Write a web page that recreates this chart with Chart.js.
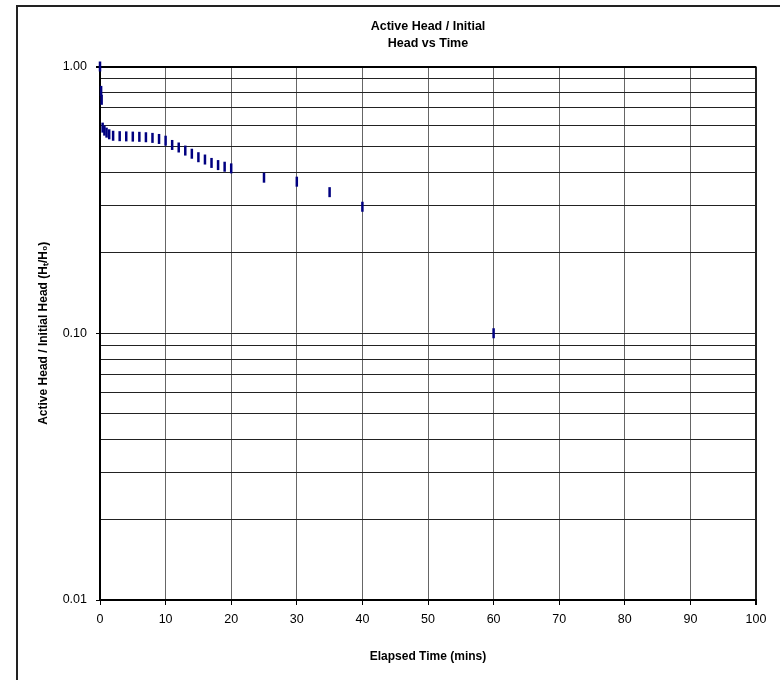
<!DOCTYPE html>
<html>
<head>
<meta charset="utf-8">
<title>Active Head / Initial Head vs Time</title>
<script src="https://cdn.jsdelivr.net/npm/chart.js@4.4.1/dist/chart.umd.min.js"></script>
<style>
  html, body { margin: 0; padding: 0; background: #fff; overflow: hidden; }
  #wrap { position: relative; width: 780px; height: 680px; }
  #frame {
    position: absolute; left: 16px; top: 5px; width: 800px; height: 700px;
    border-left: 2px solid #222; border-top: 2px solid #222; pointer-events: none;
  }
</style>
</head>
<body>
<div id="wrap">
  <canvas id="headChart" width="780" height="680"></canvas>
  <div id="frame"></div>
</div>
<script>
// elapsed time (mins) and normalised head H/H0
const elapsedTime = [0, 0.17, 0.25, 0.4, 0.67, 1, 1.4, 2, 3, 4, 5, 6, 7, 8, 9, 10,
    11, 12, 13, 14, 15, 16, 17, 18, 19, 20, 25, 30, 35, 40, 60];
const headRatio = [1.00, 0.81, 0.75, 0.59, 0.575, 0.565, 0.557, 0.55, 0.548, 0.547, 0.546, 0.545, 0.543, 0.54, 0.535, 0.527,
    0.508, 0.497, 0.484, 0.471, 0.457, 0.448, 0.435, 0.427, 0.421, 0.415, 0.383, 0.37, 0.338, 0.298, 0.100];

const yTickValues = [0.01, 0.02, 0.03, 0.04, 0.05, 0.06, 0.07, 0.08, 0.09,
    0.1, 0.2, 0.3, 0.4, 0.5, 0.6, 0.7, 0.8, 0.9, 1];
const yMajorTicks = [0.01, 0.1, 1];
const yTickLabels = ['0.01', '0.10', '1.00'];

const chartTitle = ['Active Head / Initial', 'Head vs Time'];
const xTitle = 'Elapsed Time (mins)';
const yTitle = 'Active Head / Initial Head (H\u209C/H\u2080)';

function majorIndex(v) {
    return yMajorTicks.findIndex(m => Math.abs(m - v) < 1e-9);
}

Chart.defaults.font.family = "'Liberation Sans', Arial, sans-serif";
Chart.defaults.font.size = 12;
Chart.defaults.color = '#000';

// center the title over the plot area rather than the whole canvas
const centerTitle = {
    id: 'centerTitle',
    afterLayout(chart) {
        const t = chart.titleBlock;
        if (t) {
            t.left = chart.chartArea.left;
            t.right = chart.chartArea.right;
        }
    }
};

let headChart = new Chart(document.getElementById('headChart').getContext('2d'), {
    type: 'scatter',
    data: {
        datasets: [{
            data: elapsedTime.map((t, i) => ({x: t, y: headRatio[i]})),
            pointStyle: 'line',
            rotation: 90,
            radius: 5,
            hoverRadius: 5,
            borderWidth: 2.5,
            borderColor: '#000080',
            backgroundColor: '#000080',
            showLine: false,
            clip: false
        }]
    },
    options: {
        responsive: false,
        animation: false,
        events: [],
        layout: {padding: {top: 0, left: 0, right: 24, bottom: 0}},
        plugins: {
            legend: {display: false},
            tooltip: {enabled: false},
            title: {
                display: true,
                text: chartTitle,
                font: {size: 12.5, weight: 'bold', lineHeight: 17 / 12.5},
                padding: {top: 18.5, bottom: 14},
                color: '#000'
            }
        },
        scales: {
            x: {
                type: 'linear',
                min: 0,
                max: 100,
                ticks: {stepSize: 10, padding: 7, maxRotation: 0, font: {size: 12.5}},
                grid: {
                    color: ctx => ctx.tick && ctx.tick.value === 100 ? '#222' : '#666',
                    lineWidth: ctx => ctx.tick && ctx.tick.value === 100 ? 2 : 1,
                    tickLength: 5,
                    tickColor: '#000'
                },
                border: {display: true, color: '#000', width: 2},
                title: {
                    display: true,
                    text: xTitle,
                    font: {size: 12, weight: 'bold'},
                    padding: {top: 0, bottom: 16}
                },
                afterFit: s => { s.height = 80; }
            },
            y: {
                type: 'logarithmic',
                min: 0.01,
                max: 1,
                afterBuildTicks: s => { s.ticks = yTickValues.map(v => ({value: v})); },
                ticks: {
                    padding: 9,
                    autoSkip: false,
                    font: {size: 12.5},
                    callback: v => {
                        const k = majorIndex(v);
                        return k >= 0 ? yTickLabels[k] : '';
                    }
                },
                grid: {
                    color: ctx => ctx.tick && ctx.tick.value === 1 ? '#000' : '#222',
                    lineWidth: ctx => ctx.tick && ctx.tick.value === 1 ? 2 : 1,
                    tickLength: 4,
                    tickColor: ctx => ctx.tick && majorIndex(ctx.tick.value) >= 0 ? '#000' : 'rgba(0,0,0,0)'
                },
                border: {display: true, color: '#000', width: 2},
                title: {
                    display: true,
                    text: yTitle,
                    font: {size: 12, weight: 'bold'},
                    padding: {top: 36, bottom: 0}
                },
                afterFit: s => { s.width = 100; }
            }
        }
    },
    plugins: [centerTitle]
});
</script>
</body>
</html>
